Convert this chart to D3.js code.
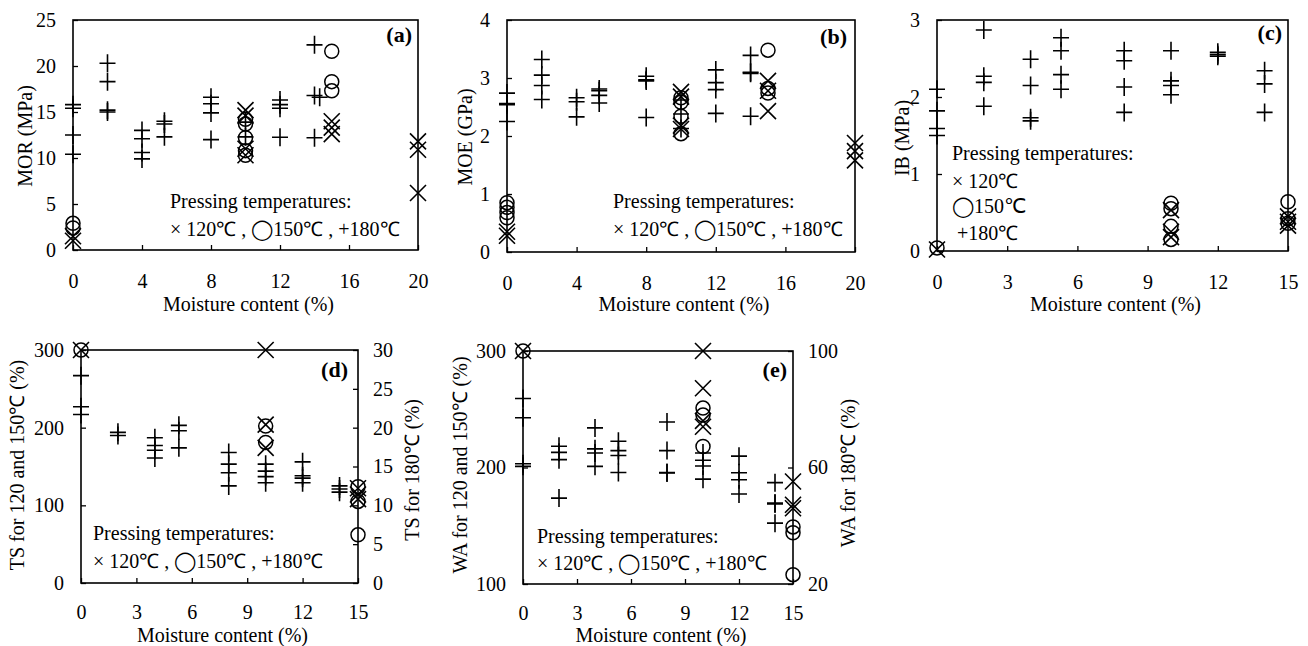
<!DOCTYPE html>
<head>
  <meta charset="utf-8">
  <script src="https://cdn.jsdelivr.net/npm/d3@7"></script>
  <style>
    body { margin: 0; background: #fff; }
    svg { display: block; font-family: 'Liberation Serif', 'Times New Roman', serif; }
  </style>
</head>
<body>
<svg id="chart" width="1308" height="646"></svg>
<script>
// values: [moisture content %, value]
// (a) MOR (MPa)
const mor120 = [[0, 1.5], [0, 1.0], [10, 15.2], [10, 14.6], [10, 11.0], [10, 10.3], [15, 14.0], [15, 13.3], [15, 12.6], [20, 11.8], [20, 10.9], [20, 6.2]]
const mor150 = [[0, 2.9], [0, 2.4], [10, 14.2], [10, 13.7], [10, 12.2], [10, 10.8], [10, 10.3], [15, 21.6], [15, 18.3], [15, 17.3]]
const mor180 = [[0, 15.8], [0, 15.4], [0, 12.5], [0, 10.4], [2, 20.3], [2, 18.3], [2, 15.2], [2, 15.0],
  [4, 13.0], [4, 12.1], [4, 10.6], [4, 9.9], [5.3, 14.0], [5.3, 13.7], [5.3, 12.3],
  [8, 16.6], [8, 15.9], [8, 14.9], [8, 12.0], [10, 13.9], [10, 12.3],
  [12, 16.3], [12, 15.8], [12, 15.4], [12, 12.25], [14, 22.3], [14, 16.8], [14.3, 16.6], [14, 12.2]]

// (b) MOE (GPa)
const moe120 = [[0, 0.35], [0, 0.28], [10, 2.76], [10, 2.68], [10, 2.18], [10, 2.12], [15, 2.95], [15, 2.78], [15, 2.43], [20, 1.88], [20, 1.74], [20, 1.58]]
const moe150 = [[0, 0.85], [0, 0.77], [0, 0.68], [0, 0.59], [10, 2.66], [10, 2.58], [10, 2.34], [10, 2.04], [15, 3.48], [15, 2.82], [15, 2.74]]
const moe180 = [[0, 2.74], [0, 2.56], [0, 2.54], [0, 2.25], [2, 3.32], [2, 3.05], [2, 2.87], [2, 2.63],
  [4, 2.66], [4, 2.59], [4, 2.33], [5.3, 2.81], [5.3, 2.78], [5.3, 2.70], [5.3, 2.57],
  [8, 3.03], [8, 2.97], [8, 2.95], [8, 2.32], [10, 2.62], [10, 2.38], [10, 2.13],
  [12, 3.14], [12, 2.92], [12, 2.80], [12, 2.39], [14, 3.39], [14, 3.10], [14, 3.08], [14, 2.34]]

// (c) IB (MPa)
const ib120 = [[0, 0.02], [10, 0.53], [10, 0.25], [10, 0.18], [15, 0.45], [15, 0.38], [15, 0.33]]
const ib150 = [[0, 0.04], [10, 0.62], [10, 0.55], [10, 0.32], [10, 0.15], [15, 0.64], [15, 0.42], [15, 0.36]]
const ib180 = [[0, 2.10], [0, 1.82], [0, 1.59], [0, 1.50], [2, 2.87], [2, 2.27], [2, 2.19], [2, 1.88],
  [4, 2.49], [4, 2.15], [4, 1.73], [4, 1.69], [5.3, 2.77], [5.3, 2.60], [5.3, 2.29], [5.3, 2.10],
  [8, 2.60], [8, 2.47], [8, 2.13], [8, 1.80], [10, 2.60], [10, 2.21], [10, 2.15], [10, 2.03],
  [12, 2.58], [12, 2.55], [12, 2.53], [14, 2.34], [14, 2.17], [14, 1.80]]

// (d) TS (%): 120/150 on left axis, 180 on right axis
const ts120 = [[0, 300], [10, 300], [10, 204], [10, 174], [15, 122], [15, 114], [15, 108]]
const ts150 = [[0, 300], [10, 202], [10, 181], [15, 124], [15, 105], [15, 62]]
const ts180 = [[0, 26.7], [0, 22.7], [0, 21.7], [2, 19.4], [2, 19.0], [4, 18.7], [4, 17.7], [4, 17.1], [4, 16.1],
  [5.3, 20.3], [5.3, 19.6], [5.3, 17.4], [8, 16.8], [8, 15.3], [8, 14.2], [8, 12.5],
  [10, 15.3], [10, 14.4], [10, 13.7], [10, 12.9], [12, 15.6], [12, 13.8], [12, 13.5], [12, 12.9],
  [14, 12.5], [14, 12.1], [14, 11.7]]

// (e) WA (%): 120/150 on left axis, 180 on right axis
const wa120 = [[0, 300], [10, 300], [10, 268], [10, 240], [10, 235], [15, 188], [15, 168], [15, 165]]
const wa150 = [[0, 300], [10, 251], [10, 245], [10, 218], [15, 149], [15, 144], [15, 108]]
const wa180 = [[0, 83.7], [0, 77.1], [0, 61.3], [0, 60.4], [2, 67.3], [2, 65.2], [2, 62.7], [2, 49.5],
  [4, 73.6], [4, 66.4], [4, 65.0], [4, 60.4], [5.3, 69.0], [5.3, 65.8], [5.3, 64.1], [5.3, 58.3],
  [8, 75.6], [8, 65.8], [8, 58.3], [8, 58.1], [10, 65.0], [10, 62.5], [10, 60.5], [10, 56.0],
  [12, 63.9], [12, 58.2], [12, 55.8], [12, 50.9], [14, 54.8], [14, 47.8], [14, 47.5], [14, 40.9]]

const ticks20 = [0, 4, 8, 12, 16, 20]
const ticks15 = [0, 3, 6, 9, 12, 15]
const xTitle = 'Moisture content (%)'
const legendTitle = 'Pressing temperatures:'
const legendLine = '× 120℃ , ◯150℃ , +180℃'

const svg = d3.select('#chart')
const font = "'Liberation Serif', 'Times New Roman', serif"
const fmt = d3.format('d')

// marker shapes, stroked
const shapes = {
  x: 'M-8,-8L8,8M-8,8L8,-8',
  plus: 'M-8,0H8M0,-9V9',
}

const panel = (o) => {
  const [l, t, r, b] = o.box
  const g = svg.append('g')
  const x = d3.scaleLinear().domain(o.xDomain).range([l, r])
  const y = d3.scaleLinear().domain(o.yDomain).range([b, t])
  const yR = o.rDomain ? d3.scaleLinear().domain(o.rDomain).range([b, t]) : y

  const styleAxis = sel => {
    sel.attr('font-size', 20).attr('font-family', font)
    sel.select('.domain').remove()
    sel.selectAll('.tick line').attr('stroke', '#000').attr('stroke-width', 1.3)
    sel.selectAll('.tick text').attr('fill', '#000')
  }

  g.append('g').attr('transform', `translate(0,${b})`)
    .call(d3.axisBottom(x).tickValues(o.xTicks).tickFormat(fmt).tickSize(-5).tickPadding(o.xPad))
    .call(styleAxis)
  g.append('g').attr('transform', `translate(${l},0)`)
    .call(d3.axisLeft(y).tickValues(o.yTicks).tickFormat(fmt).tickSize(-5).tickPadding(17))
    .call(styleAxis)
  if (o.rDomain) {
    g.append('g').attr('transform', `translate(${r},0)`)
      .call(d3.axisRight(yR).tickValues(o.rTicks).tickFormat(fmt).tickSize(-5).tickPadding(15))
      .call(styleAxis)
  }

  g.append('rect')
    .attr('x', l).attr('y', t).attr('width', r - l).attr('height', b - t)
    .attr('fill', 'none').attr('stroke', '#000').attr('stroke-width', 1.6)

  // markers
  const drawPath = (data, scale, d) => g.append('g').selectAll('path').data(data).join('path')
    .attr('transform', p => `translate(${x(p[0])},${scale(p[1])})`)
    .attr('d', d).attr('fill', 'none').attr('stroke', '#000').attr('stroke-width', 1.6)
  drawPath(o.s180, yR, shapes.plus)
  g.append('g').selectAll('circle').data(o.s150).join('circle')
    .attr('cx', p => x(p[0])).attr('cy', p => y(p[1])).attr('r', 7)
    .attr('fill', 'none').attr('stroke', '#000').attr('stroke-width', 1.5)
  drawPath(o.s120, y, shapes.x)

  // titles
  g.append('text').attr('x', (l + r) / 2 + 3).attr('y', o.xTitleY)
    .attr('text-anchor', 'middle').attr('font-size', 20).text(xTitle)
  g.append('text').attr('transform', `translate(${o.yTitleX},${o.yTitleY}) rotate(-90)`)
    .attr('text-anchor', 'middle').attr('dy', '0.35em').attr('font-size', 20).text(o.yTitle)
  if (o.rTitle) {
    g.append('text').attr('transform', `translate(${o.rTitleX},${o.rTitleY}) rotate(-90)`)
      .attr('text-anchor', 'middle').attr('dy', '0.35em').attr('font-size', 20).text(o.rTitle)
  }
  g.append('text').attr('x', o.tag[1]).attr('y', o.tag[2]).attr('text-anchor', 'end')
    .attr('font-size', 22).attr('font-weight', 'bold').text(o.tag[0])

  // legend lines
  g.append('g').selectAll('text').data(o.legend).join('text')
    .attr('x', d => d[1]).attr('y', d => d[2]).attr('font-size', 20)
    .text(d => d[0])
}

panel({
  box: [73, 20, 418, 250], xDomain: [0, 20], xTicks: ticks20, yDomain: [0, 25], yTicks: [0, 5, 10, 15, 20, 25],
  s120: mor120, s150: mor150, s180: mor180, xPad: 24,
  xTitleY: 311, yTitle: 'MOR (MPa)', yTitleX: 25, yTitleY: 136, tag: ['(a)', 412, 42],
  legend: [[legendTitle, 170, 208], [legendLine, 170, 236]],
})
panel({
  box: [507, 20, 855, 252], xDomain: [0, 20], xTicks: ticks20, yDomain: [0, 4], yTicks: [0, 1, 2, 3, 4],
  s120: moe120, s150: moe150, s180: moe180, xPad: 24,
  xTitleY: 311, yTitle: 'MOE (GPa)', yTitleX: 465, yTitleY: 137, tag: ['(b)', 847, 44],
  legend: [[legendTitle, 613, 208], [legendLine, 613, 236]],
})
panel({
  box: [937, 20, 1288, 251], xDomain: [0, 15], xTicks: ticks15, yDomain: [0, 3], yTicks: [0, 1, 2, 3],
  s120: ib120, s150: ib150, s180: ib180, xPad: 24,
  xTitleY: 311, yTitle: 'IB (MPa)', yTitleX: 902, yTitleY: 138, tag: ['(c)', 1282, 40],
  legend: [[legendTitle, 952, 160], ['× 120℃', 952, 188], ['◯150℃', 952, 213], ['+180℃', 957, 240]],
})
panel({
  box: [81, 350, 358, 583], xDomain: [0, 15], xTicks: ticks15, yDomain: [0, 300], yTicks: [0, 100, 200, 300],
  rDomain: [0, 30], rTicks: [0, 5, 10, 15, 20, 25, 30],
  s120: ts120, s150: ts150, s180: ts180, xPad: 22,
  xTitleY: 642, yTitle: 'TS for 120 and 150℃ (%)', yTitleX: 17, yTitleY: 465,
  rTitle: 'TS for 180℃ (%)', rTitleX: 412, rTitleY: 470, tag: ['(d)', 348, 377],
  legend: [[legendTitle, 93, 540], [legendLine, 93, 568]],
})
panel({
  box: [523, 351, 793, 584], xDomain: [0, 15], xTicks: ticks15, yDomain: [100, 300], yTicks: [100, 200, 300],
  rDomain: [20, 100], rTicks: [20, 60, 100],
  s120: wa120, s150: wa150, s180: wa180, xPad: 22,
  xTitleY: 642, yTitle: 'WA for 120 and 150℃ (%)', yTitleX: 460, yTitleY: 465,
  rTitle: 'WA for 180℃ (%)', rTitleX: 848, rTitleY: 473, tag: ['(e)', 787, 377],
  legend: [[legendTitle, 537, 543], [legendLine, 537, 570]],
})
</script>
</body>
